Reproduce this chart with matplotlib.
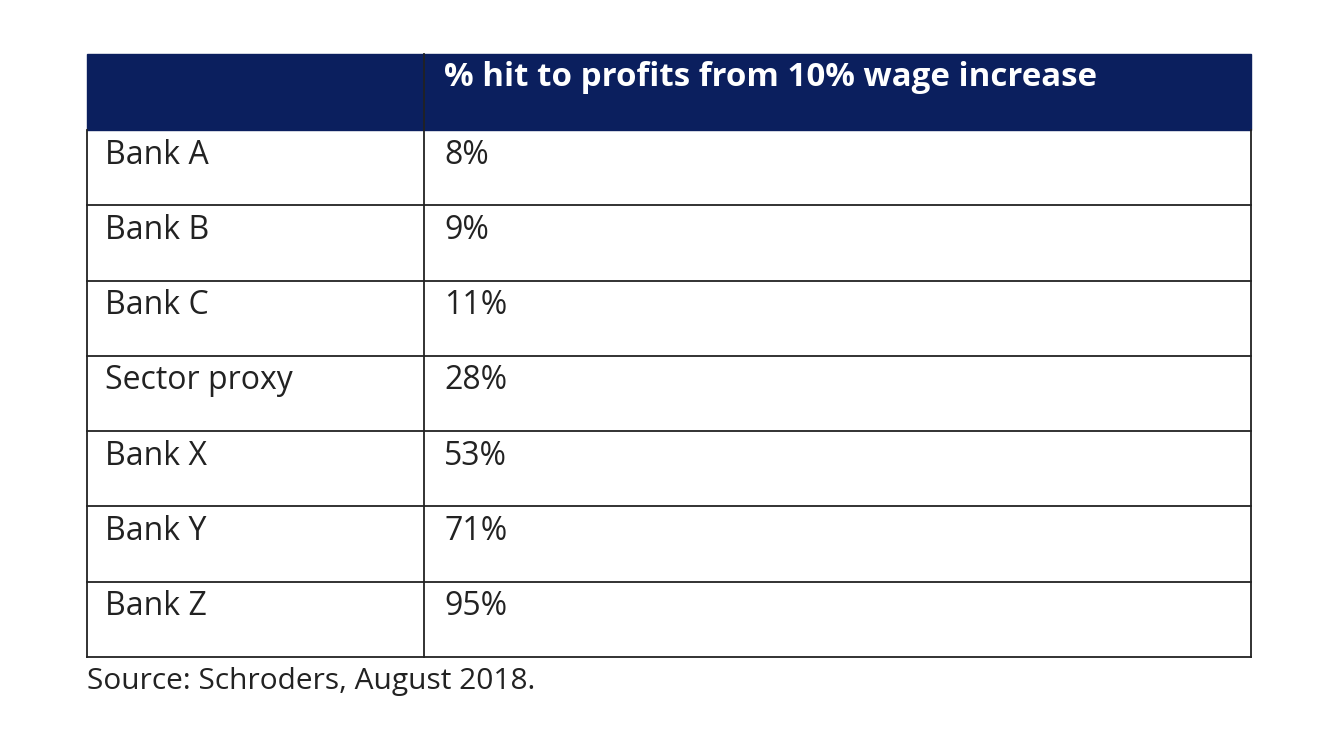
import matplotlib
matplotlib.use('Agg')
import matplotlib.pyplot as plt
from matplotlib.patches import Rectangle

labels = ["Bank A", "Bank B", "Bank C", "Sector proxy", "Bank X", "Bank Y", "Bank Z"]
values = ["8%", "9%", "11%", "28%", "53%", "71%", "95%"]
header = "% hit to profits from 10% wage increase"
source = "Source: Schroders, August 2018."

plt.rcParams['font.family'] = ['Open Sans', 'DejaVu Sans']

fig = plt.figure(figsize=(13.32, 7.30), dpi=100)
ax = fig.add_axes([0, 0, 1, 1])
ax.set_xlim(0, 1332)
ax.set_ylim(730, 0)
ax.axis('off')

left, mid, right = 87, 424, 1251
top, head_bot = 54, 130
row_h = (657 - head_bot) / len(labels)
navy = "#0b1f5e"

ax.add_patch(Rectangle((left, top), right - left, head_bot - top, facecolor=navy, edgecolor=navy))
ax.text(mid + 20, top + 24, header, color="white", fontsize=23.8, fontweight="bold", va="center")

bottom = head_bot + row_h * len(labels)
for i, (lab, val) in enumerate(zip(labels, values)):
    y0 = head_bot + i * row_h
    ax.text(left + 18, y0 + 25, lab, fontsize=23, color="#222222", va="center")
    ax.text(mid + 20, y0 + 25, val, fontsize=23, color="#222222", va="center")
    ax.plot([left, right], [y0 + row_h, y0 + row_h], color="#222222", lw=1.3)

ax.plot([left, left], [head_bot, bottom], color="#222222", lw=1.3)
ax.plot([right, right], [head_bot, bottom], color="#222222", lw=1.3)
ax.plot([mid, mid], [top, bottom], color="#222222", lw=1.3)
ax.text(left, 682, source, fontsize=21.5, color="#222222", va="center")

fig.savefig("out.png", dpi=100)
